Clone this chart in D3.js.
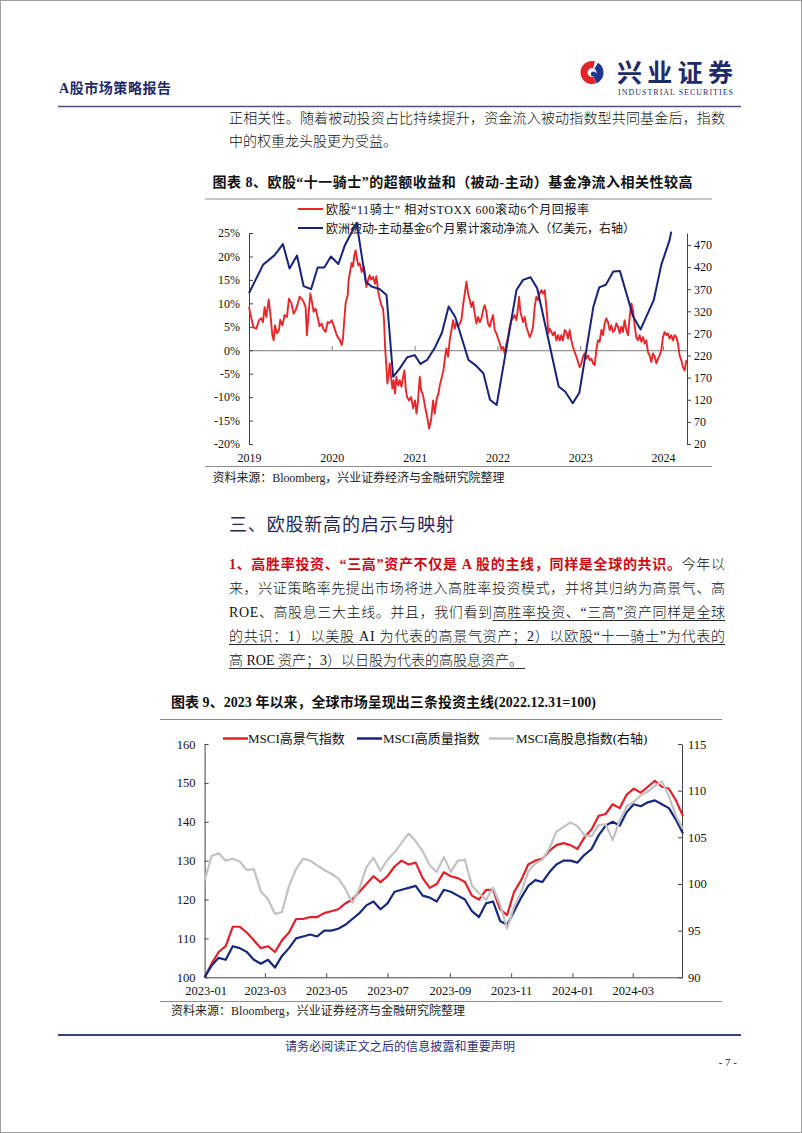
<!DOCTYPE html>
<html><head><meta charset="utf-8">
<script src="https://cdn.jsdelivr.net/npm/d3@7"></script>
<style>
html,body{margin:0;padding:0;background:#fff;}
svg text{font-family:"Liberation Serif","Noto Sans CJK SC",serif;}
</style></head><body>
<svg id="page" width="802" height="1133"></svg>
<script>
// ================= DATA =================
// Chart 1 (figure 8): x = years since 2019-01-01
const c1YearTicks = [2019, 2020, 2021, 2022, 2023, 2024];
const c1LeftTicks = [-20, -15, -10, -5, 0, 5, 10, 15, 20, 25];
const c1RightTicks = [20, 70, 120, 170, 220, 270, 320, 370, 420, 470];
const c1LegendLabels = ["欧股“11骑士” 相对STOXX 600滚动6个月回报率", "欧洲被动-主动基金6个月累计滚动净流入（亿美元，右轴）"];
// red: rolling 6m relative return (%)
const c1Red = [
[0.000,9.2],[0.028,6.8],[0.056,4.8],[0.089,4.6],[0.121,6.4],[0.149,6.8],[0.169,6.0],[0.189,9.2],[0.209,7.1],[0.238,10.8],
[0.258,7.8],[0.282,3.2],[0.298,2.1],[0.314,5.3],[0.338,3.6],[0.362,4.3],[0.378,6.5],[0.403,5.3],[0.431,7.5],[0.459,7.1],
[0.483,11.0],[0.511,10.1],[0.539,7.8],[0.564,8.5],[0.592,10.1],[0.612,11.4],[0.636,11.0],[0.660,10.3],[0.684,9.2],[0.700,3.2],
[0.717,7.1],[0.741,12.1],[0.757,10.7],[0.781,8.2],[0.805,8.9],[0.829,7.1],[0.853,5.1],[0.878,5.7],[0.902,4.4],[0.926,3.9],
[0.950,6.0],[0.974,5.8],[0.998,6.4],[1.023,5.3],[1.047,3.9],[1.071,2.8],[1.095,2.3],[1.119,1.1],[1.135,2.5],[1.151,6.4],
[1.167,10.0],[1.192,11.7],[1.204,14.9],[1.224,17.1],[1.240,18.6],[1.256,17.8],[1.272,20.3],[1.288,21.3],[1.304,19.5],[1.320,18.1],
[1.337,18.5],[1.361,16.7],[1.385,17.8],[1.401,16.3],[1.417,13.5],[1.437,14.9],[1.457,16.0],[1.473,15.1],[1.498,15.6],[1.522,14.2],
[1.538,15.8],[1.558,12.8],[1.578,11.0],[1.598,9.6],[1.618,8.9],[1.630,6.4],[1.643,0.7],[1.659,-3.6],[1.671,-7.1],[1.687,-5.0],
[1.699,-2.8],[1.715,-5.7],[1.731,-8.2],[1.747,-6.4],[1.763,-9.2],[1.779,-5.7],[1.800,-7.5],[1.820,-6.4],[1.840,-7.8],[1.860,-5.7],
[1.876,-4.3],[1.892,-8.2],[1.908,-10.0],[1.932,-10.7],[1.957,-10.0],[1.981,-12.4],[2.005,-10.7],[2.021,-13.5],[2.037,-11.4],[2.061,-5.7],
[2.077,-8.5],[2.101,-9.6],[2.126,-12.1],[2.150,-14.2],[2.174,-16.7],[2.198,-14.9],[2.222,-10.7],[2.242,-13.5],[2.262,-10.7],[2.287,-9.2],
[2.303,-7.5],[2.347,-4.3],[2.367,-1.4],[2.383,0.4],[2.403,-1.4],[2.423,2.1],[2.444,4.3],[2.464,6.4],[2.484,4.6],[2.504,6.0],
[2.524,5.0],[2.544,5.7],[2.564,6.4],[2.585,9.6],[2.605,12.1],[2.625,14.6],[2.645,12.1],[2.665,10.7],[2.685,9.2],[2.705,10.3],
[2.725,7.8],[2.746,5.7],[2.766,7.1],[2.786,6.0],[2.806,6.8],[2.826,8.5],[2.846,9.6],[2.866,8.2],[2.886,5.7],[2.907,5.0],
[2.927,6.4],[2.947,7.5],[2.967,4.3],[2.987,3.6],[3.007,2.5],[3.027,1.5],[3.047,0.2],[3.068,0.7],[3.088,-0.7],[3.108,1.4],
[3.128,2.8],[3.148,5.0],[3.168,6.4],[3.188,6.8],[3.208,7.5],[3.229,6.4],[3.249,9.2],[3.261,11.4],[3.277,8.2],[3.293,7.1],
[3.309,6.0],[3.329,7.1],[3.349,5.0],[3.370,3.9],[3.390,2.8],[3.410,3.6],[3.430,5.0],[3.450,9.2],[3.470,11.4],[3.490,10.7],
[3.510,12.1],[3.531,12.8],[3.551,12.1],[3.571,12.8],[3.583,10.7],[3.599,7.8],[3.615,3.6],[3.631,4.6],[3.652,3.9],[3.672,3.2],
[3.692,3.9],[3.712,2.1],[3.732,3.2],[3.752,2.1],[3.772,3.2],[3.792,2.1],[3.813,4.3],[3.833,3.9],[3.853,2.5],[3.873,4.3],
[3.893,2.1],[3.913,0.7],[3.934,-0.4],[3.954,-1.4],[3.974,-2.5],[3.994,-3.6],[4.014,-2.8],[4.034,-1.4],[4.054,-0.7],[4.074,-1.8],
[4.095,-1.1],[4.115,-2.1],[4.135,-1.8],[4.155,-2.8],[4.175,-3.2],[4.195,0.0],[4.215,2.1],[4.235,1.8],[4.256,4.3],[4.276,3.2],
[4.296,5.7],[4.316,6.8],[4.336,6.0],[4.356,4.3],[4.376,5.3],[4.396,3.9],[4.417,4.3],[4.437,5.7],[4.457,5.0],[4.477,3.6],
[4.497,5.0],[4.517,3.9],[4.537,6.4],[4.558,4.3],[4.578,3.2],[4.598,7.1],[4.618,10.0],[4.638,8.5],[4.658,5.3],[4.678,2.8],
[4.698,2.1],[4.718,3.2],[4.739,1.8],[4.759,2.8],[4.779,1.4],[4.799,2.1],[4.819,-0.4],[4.839,-1.1],[4.859,-2.5],[4.879,-0.7],
[4.900,-1.4],[4.920,-2.8],[4.940,-1.8],[4.960,-1.1],[4.980,0.0],[5.000,2.8],[5.020,3.9],[5.040,3.2],[5.060,3.6],[5.080,2.5],
[5.101,3.2],[5.121,2.1],[5.141,3.2],[5.161,2.8],[5.181,1.4],[5.201,-1.1],[5.221,-2.1],[5.241,-3.6],[5.262,-4.3],[5.282,-2.1]
];
// blue: Europe passive-active fund 6m cumulative net inflow (100m USD, right axis)
const c1Blue = [
[0.00,361],[0.17,425],[0.31,447],[0.41,472],[0.49,417],[0.58,446],[0.66,377],[0.75,370],[0.83,419],[0.91,419],
[0.99,444],[1.08,427],[1.16,470],[1.30,520],[1.41,387],[1.48,376],[1.58,370],[1.66,357],[1.74,172],[1.82,191],
[1.91,216],[2.00,221],[2.07,201],[2.15,210],[2.25,240],[2.33,272],[2.41,331],[2.49,307],[2.65,210],[2.73,199],
[2.83,180],[2.91,120],[2.99,108],[3.23,368],[3.31,391],[3.40,397],[3.48,372],[3.74,150],[3.82,138],[3.91,112],
[3.99,136],[4.16,331],[4.23,374],[4.31,380],[4.40,410],[4.48,411],[4.64,308],[4.73,279],[4.89,346],[4.98,425],
[5.08,481],[5.10,500]
];

// Chart 2 (figure 9): weekly, starting 2022-12-31 (=100)
const c2Start = "2022-12-31";
const c2StepDays = 7;
const c2TickDates = ["2023-01-01","2023-03-01","2023-05-01","2023-07-01","2023-09-01","2023-11-01","2024-01-01","2024-03-01"];
const c2LeftTicks = [100, 110, 120, 130, 140, 150, 160];
const c2RightTicks = [90, 95, 100, 105, 110, 115];
const c2LegendLabels = ["MSCI高景气指数", "MSCI高质量指数", "MSCI高股息指数(右轴)"];
const c2Red = [100,103.5,106.5,108,113,113,111.5,109.5,107.5,108,106.5,109.5,111.5,115,115,115.5,115.5,116.5,117,117.5,
119,120,122,124,126,124.5,126,128.5,130,129,129.5,125.5,123,124,127,126,125.5,124.5,121,120,
122.5,122.5,117.5,116,122,125,129,130,130.5,132.5,134,134.5,134,133,136,138,141.5,142,144.5,143.5,
147,148.5,147.5,149,150.5,149,148.5,145.5,141.5];
const c2Navy = [100,103,105,104.5,108,107.5,106.5,104.5,103.5,104.5,102.5,105.5,107.5,110,110.5,111,110.5,112,112,112.5,
113.5,115,116.5,118.5,119.5,117.5,119,122,122.5,123,123.5,121,120.5,119.5,122.5,122,121,120,117,115.5,
119,119.5,114.5,113.5,117,120.5,123.5,125,124.5,127,129,130,130,129.5,131.5,133,136.5,139,140,139,
142.5,144.5,144,145,145.5,144.5,143.5,140.5,137];
const c2Gray = [100.4,103,103.3,102.5,102.7,102.4,101.5,101.6,99.2,98.4,96.8,97.0,99.8,101.6,102.7,102.5,102,101.5,101.1,100.6,
99.5,98,99.5,101.8,102.8,101.4,102.6,103.4,104.4,105.4,104.6,103.5,102,101.3,102.9,101.3,102.5,102.6,99.8,99,
98.3,99.6,97.8,95.2,97.6,99.1,101.3,102.2,102.6,103.8,105.6,106.1,106.6,106.2,105.2,105.1,106.3,106.4,104.7,106.8,
108.3,108.8,109.5,109.9,110.5,111,109.4,107.3,105.9];

// ================= DRAW =================
const svg = d3.select("#page");
const CJK = '"Noto Sans CJK SC","Liberation Serif",sans-serif';
const SERIF = '"Liberation Serif","Noto Sans CJK SC",serif';
const NAVY = "#1f2a6b";

svg.append("rect").attr("x",0.5).attr("y",0.5).attr("width",801).attr("height",1132)
  .attr("fill","none").attr("stroke","#a0a0a0").attr("stroke-width",1);

function T(x, y, s, o = {}) {
  const t = svg.append("text").attr("x", x).attr("y", y).text(s)
    .attr("font-size", o.size || 14).attr("fill", o.fill || "#111")
    .attr("font-family", o.family || SERIF);
  if (o.weight) t.attr("font-weight", o.weight);
  if (o.anchor) t.attr("text-anchor", o.anchor);
  if (o.len) t.attr("textLength", o.len).attr("lengthAdjust", "spacing");
  return t;
}

// ---- Header ----
T(59, 93, "A股市场策略报告", {size: 14, weight: 700, fill: NAVY, len: 112});
// logo mark
const logo = svg.append("g").attr("transform", "translate(592,72.5)");
logo.append("path").attr("d", d3.arc()({innerRadius: 4.5, outerRadius: 11.5, startAngle: -3.5, endAngle: 0.25})).attr("fill", "#e2232a");
logo.append("path").attr("d", d3.arc()({innerRadius: 4.5, outerRadius: 11.5, startAngle: 0.55, endAngle: 2.75})).attr("fill", "#1f3590");
logo.append("circle").attr("cx", 1.5).attr("cy", 1.5).attr("r", 2.6).attr("fill", "#1f3590");
T(617, 82, "兴业证券", {size: 25, weight: 700, fill: NAVY, family: CJK, len: 116});
T(618, 94.5, "INDUSTRIAL SECURITIES", {size: 8, fill: NAVY, len: 115});
svg.append("line").attr("x1", 58).attr("x2", 741).attr("y1", 106.5).attr("y2", 106.5)
  .attr("stroke", "#4a4f86").attr("stroke-width", 1.5);

// ---- top paragraph ----
const BODY = {size: 14, fill: "#111", family: CJK, weight: 300};
T(229, 123, "正相关性。随着被动投资占比持续提升，资金流入被动指数型共同基金后，指数", {...BODY, len: 496});
T(229, 146, "中的权重龙头股更为受益。", BODY);

// ================= Chart 1 =================
T(212.5, 187, "图表 8、欧股“十一骑士”的超额收益和（被动-主动）基金净流入相关性较高", {size: 14, weight: 700, fill: "#111", len: 480});
svg.append("line").attr("x1", 205).attr("x2", 712).attr("y1", 199).attr("y2", 199).attr("stroke", "#8c8c8c").attr("stroke-width", 1.2);

const yr = t => { const y = 2019 + Math.floor(t), f = t - Math.floor(t);
  const a = new Date(y, 0, 1), b = new Date(y + 1, 0, 1); return new Date(+a + f * (b - a)); };
const x1 = d3.scaleTime().domain([yr(0), yr(5.29)]).range([249, 687]);
const y1L = d3.scaleLinear().domain([-20, 25]).range([444, 233]);
const y1R = d3.scaleLinear().domain([20, 497]).range([444, 233]);

const RED1 = "#e8272b", BLUE1 = "#17237a";
// legend
[[RED1, 209, 263], [BLUE1, 228, 309]].forEach(([c, y, len], i) => {
  svg.append("line").attr("x1", 298).attr("x2", 323).attr("y1", y).attr("y2", y).attr("stroke", c).attr("stroke-width", 2);
  T(326, y + 4.5, c1LegendLabels[i], {size: 12, fill: "#111", len: len});
});

function styleAxis(g, size) {
  g.selectAll("text").attr("font-family", SERIF).attr("font-size", size).attr("fill", "#111");
  g.selectAll("path,line").attr("stroke", "#444");
}
// zero line + year ticks
const g0 = svg.append("g").attr("transform", `translate(0,${y1L(0)})`)
  .call(d3.axisBottom(x1).tickValues(c1YearTicks.map(d => new Date(d, 0, 1))).tickSize(-4).tickSizeOuter(0).tickFormat(""));
g0.selectAll("path,line").attr("stroke", "#7a7a7a");
// year labels
const gx = svg.append("g").attr("transform", "translate(0,444)")
  .call(d3.axisBottom(x1).tickValues(c1YearTicks.map(d => new Date(d, 0, 1))).tickSize(0).tickPadding(9).tickFormat(d3.timeFormat("%Y")));
gx.select(".domain").remove();
styleAxis(gx, 12);
const gl = svg.append("g").attr("transform", "translate(249,0)")
  .call(d3.axisLeft(y1L).tickValues(c1LeftTicks).tickSize(-4).tickSizeOuter(0).tickPadding(9).tickFormat(d => d + "%"));
styleAxis(gl, 12);
const gr = svg.append("g").attr("transform", "translate(687,0)")
  .call(d3.axisRight(y1R).tickValues(c1RightTicks).tickSize(4).tickSizeOuter(0).tickPadding(3));
styleAxis(gr, 12);

svg.append("path").datum(c1Red).attr("fill", "none").attr("stroke", RED1).attr("stroke-width", 1.9)
  .attr("stroke-linejoin", "round")
  .attr("d", d3.line().x(d => x1(yr(d[0]))).y(d => y1L(d[1])));
svg.append("path").datum(c1Blue).attr("fill", "none").attr("stroke", BLUE1).attr("stroke-width", 2)
  .attr("stroke-linejoin", "round")
  .attr("d", d3.line().x(d => x1(yr(d[0]))).y(d => y1R(d[1])));

svg.append("line").attr("x1", 205).attr("x2", 712).attr("y1", 466.5).attr("y2", 466.5).attr("stroke", "#8c8c8c").attr("stroke-width", 1.2);
T(212.5, 482, "资料来源：Bloomberg，兴业证券经济与金融研究院整理", {size: 12, fill: "#222", len: 292});

// ---- Section heading + paragraph ----
T(229, 531, "三、欧股新高的启示与映射", {size: 18, fill: "#1f2757", family: CJK, len: 225});

const pL1 = svg.append("text").attr("x", 229).attr("y", 569).attr("font-size", 14)
  .attr("font-family", CJK).attr("textLength", 496).attr("lengthAdjust", "spacing");
pL1.append("tspan").attr("fill", "#cc0a14").attr("font-weight", 700).text("1、高胜率投资、“三高”资产不仅是 A 股的主线，同样是全球的共识。");
pL1.append("tspan").attr("fill", "#111").attr("font-weight", 300).text("今年以");
T(229, 593, "来，兴证策略率先提出市场将进入高胜率投资模式，并将其归纳为高景气、高", {...BODY, len: 496});
const l3s = "ROE、高股息三大主线。并且，我们看到高胜率投资、“三高”资产同样是全球";
const pL3 = T(229, 617, l3s, {...BODY, len: 496});
const pL4 = T(229, 641, "的共识：1）以美股 AI 为代表的高景气资产；2）以欧股“十一骑士”为代表的", {...BODY, len: 496});
const pL5 = T(229, 665, "高 ROE 资产；3）以日股为代表的高股息资产。", BODY);
function underline(x1u, x2u, y) {
  svg.append("line").attr("x1", x1u).attr("x2", x2u).attr("y1", y).attr("y2", y).attr("stroke", "#111").attr("stroke-width", 0.9);
}
const u3 = pL3.node().getStartPositionOfChar(l3s.indexOf("高胜率投资")).x;
underline(u3, 725, 620.5);
underline(229, 725, 644.5);
underline(229, 229 + pL5.node().getComputedTextLength() + 2, 668.5);

// ================= Chart 2 =================
T(171, 707, "图表 9、2023 年以来，全球市场呈现出三条投资主线(2022.12.31=100)", {size: 14, weight: 700, fill: "#111", len: 425});
svg.append("line").attr("x1", 160).attr("x2", 722).attr("y1", 719.5).attr("y2", 719.5).attr("stroke", "#8c8c8c").attr("stroke-width", 1.2);

const parse = d3.timeParse("%Y-%m-%d");
const d0 = parse(c2Start);
const c2Dates = c2Red.map((_, i) => d3.timeDay.offset(d0, i * c2StepDays));
const x2 = d3.scaleTime().domain([parse("2022-12-31"), parse("2024-04-19")]).range([204.6, 682]);
const y2L = d3.scaleLinear().domain([100, 160]).range([977.3, 744]);
const y2R = d3.scaleLinear().domain([90, 115]).range([977.3, 744]);

const RED2 = "#e3202a", NAVY2 = "#16287e", GRAY2 = "#c2c2c2";
const leg2 = [[RED2, 223, 248], [NAVY2, 357, 383], [GRAY2, 489, 516]];
leg2.forEach(([c, lx, tx], i) => {
  svg.append("line").attr("x1", lx).attr("x2", lx + 25).attr("y1", 738.5).attr("y2", 738.5).attr("stroke", c).attr("stroke-width", 2.5);
  T(tx, 743, c2LegendLabels[i], {size: 13, fill: "#111"});
});

const g2x = svg.append("g").attr("transform", "translate(0,977.3)")
  .call(d3.axisBottom(x2).tickValues(c2TickDates.map(parse)).tickSize(-4).tickSizeOuter(0).tickPadding(9).tickFormat(d3.timeFormat("%Y-%m")));
styleAxis(g2x, 12.5);
const g2l = svg.append("g").attr("transform", "translate(204.6,0)")
  .call(d3.axisLeft(y2L).tickValues(c2LeftTicks).tickSize(-4).tickSizeOuter(0).tickPadding(9));
styleAxis(g2l, 12.5);
const g2r = svg.append("g").attr("transform", "translate(682,0)")
  .call(d3.axisRight(y2R).tickValues(c2RightTicks).tickSize(-4).tickSizeOuter(0).tickPadding(6));
styleAxis(g2r, 12.5);

function series(vals, yS, color) {
  svg.append("path").datum(vals).attr("fill", "none").attr("stroke", color).attr("stroke-width", 2.2)
    .attr("stroke-linejoin", "round")
    .attr("d", d3.line().x((d, i) => x2(c2Dates[i])).y(d => yS(d)));
}
series(c2Red, y2L, RED2);
series(c2Navy, y2L, NAVY2);
series(c2Gray, y2R, GRAY2);

svg.append("line").attr("x1", 160).attr("x2", 722).attr("y1", 1001.5).attr("y2", 1001.5).attr("stroke", "#8c8c8c").attr("stroke-width", 1.2);
T(171, 1015, "资料来源：Bloomberg，兴业证券经济与金融研究院整理", {size: 12, fill: "#222", len: 294});

// ---- Footer ----
svg.append("line").attr("x1", 58).attr("x2", 741).attr("y1", 1035).attr("y2", 1035).attr("stroke", "#3a3f7e").attr("stroke-width", 2);
T(400, 1050.5, "请务必阅读正文之后的信息披露和重要声明", {size: 12, fill: "#2b2f78", family: CJK, anchor: "middle", len: 230});
T(737, 1066, "- 7 -", {size: 11, fill: "#222", anchor: "end"});
</script>
</body></html>
